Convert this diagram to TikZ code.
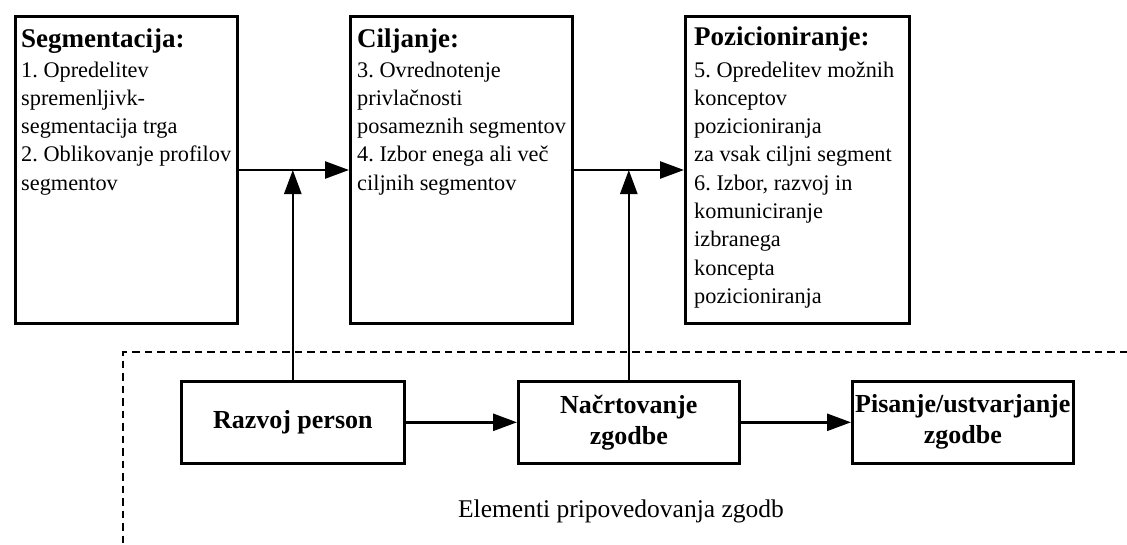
\documentclass[tikz,border=0pt]{standalone}
\usepackage{fontspec}
\setmainfont{Liberation Serif}
\usetikzlibrary{arrows.meta}
\frenchspacing

\tikzset{
  stagebox/.style={draw, line width=2.6pt, rectangle, inner sep=0pt, anchor=north west},
  storybox/.style={draw, line width=2.6pt, rectangle, inner sep=0pt, anchor=north west,
    align=center, font=\fontsize{26}{31}\selectfont\bfseries},
  heading/.style={anchor=base west, inner sep=0pt, font=\fontsize{27}{30}\selectfont\bfseries},
  bodytext/.style={anchor=base west, inner sep=0pt, font=\fontsize{22.3}{28.3}\selectfont},
  flow/.style={line width=2.6pt, -{Triangle[length=24pt,width=17pt]}},
  frame/.style={line width=2.2pt, dash pattern=on 7.5pt off 5pt},
  caption/.style={anchor=base, inner sep=0pt, font=\fontsize{25.5}{28}\selectfont}
}

\newcommand{\stagelines}[2]{\parbox[t]{#1}{\frenchspacing\raggedright #2}}

\begin{document}
\begin{tikzpicture}[x=1pt, y=-1pt]
  \useasboundingbox (0,0) rectangle (1127,544);

  % upper row: the three stages
  \node[stagebox, minimum width=222pt, minimum height=307pt] (seg) at (14,15) {};
  \node[stagebox, minimum width=222pt, minimum height=307pt] (cil) at (349,15) {};
  \node[stagebox, minimum width=224pt, minimum height=307pt] (poz) at (684,15) {};

  \node[heading] (segh) at (21,47) {Segmentacija:};
  \node[bodytext] (segt) at (21,77) {\stagelines{240pt}{1. Opredelitev\\ spremenljivk-\\ segmentacija trga\\ 2. Oblikovanje profilov\\ segmentov}};

  \node[heading] (cilh) at (357,47) {Ciljanje:};
  \node[bodytext] (cilt) at (357,77) {\stagelines{240pt}{3. Ovrednotenje\\ privlačnosti\\ posameznih segmentov\\ 4. Izbor enega ali več\\ ciljnih segmentov}};

  \node[heading] (pozh) at (694,45) {Pozicioniranje:};
  \node[bodytext] (pozt) at (694,77) {\stagelines{240pt}{5. Opredelitev možnih\\ konceptov\\ pozicioniranja\\ za vsak ciljni segment\\ 6. Izbor, razvoj in\\ komuniciranje\\ izbranega\\ koncepta\\ pozicioniranja}};

  % lower row: storytelling elements
  \node[storybox, minimum width=223pt, minimum height=82pt] (raz) at (180,380) {Razvoj person};
  \node[storybox, minimum width=221pt, minimum height=82pt] (nac) at (517,380) {Načrtovanje\\ zgodbe};
  \node[storybox, minimum width=221pt, minimum height=82pt] (pis) at (851,380) {Pisanje/ustvarjanje\\ zgodbe};

  \node[caption] (elem) at (621,517) {Elementi pripovedovanja zgodb};

  % dashed frame around the storytelling part
  \coordinate (fc) at (123,352);
  \coordinate (fr) at (1127,352);
  \coordinate (fb) at (123,544);
  \draw[frame] (fr) -- (fc) -- (fb);

  % flow between stages
  \draw[flow] (seg.east |- 0,170) -- (cil.west |- 0,170);
  \draw[flow] (cil.east |- 0,170) -- (poz.west |- 0,170);
  \draw[flow] (raz.north) -- (raz.north |- 0,170);
  \draw[flow] (nac.north) -- (nac.north |- 0,170);
  \draw[flow] (raz) -- (nac);
  \draw[flow] (nac) -- (pis);
\end{tikzpicture}
\end{document}
